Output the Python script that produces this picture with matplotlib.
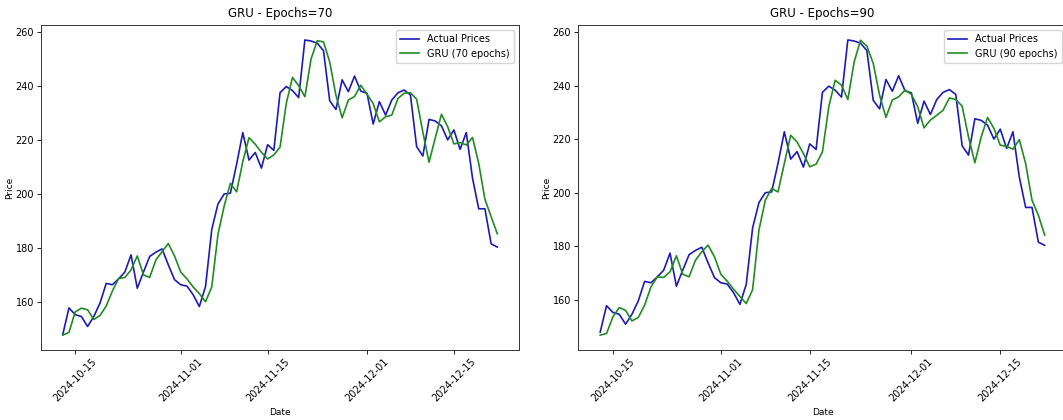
import pandas as pd
import matplotlib.pyplot as plt
import matplotlib.dates as mdates

# daily dates shown on the x axis
dates = pd.date_range('2024-10-13', '2024-12-22', freq='D')

actual_prices = [
    147.8, 157.7, 155.2, 154.5, 150.8, 154.5, 159.5, 166.8, 166.3, 168.5,
    171.0, 177.4, 165.0, 171.0, 176.8, 178.4, 179.6, 173.7, 168.2,
    166.3, 165.8, 162.6, 158.2, 165.7, 186.8, 196.3, 200.0, 200.3, 211.0,
    222.8, 212.6, 215.4, 209.6, 218.3, 216.2, 237.6, 239.9, 238.4, 235.8,
    257.2, 256.8, 256.0, 253.2, 234.6, 231.4, 242.4, 238.0, 243.8, 238.2,
    237.4, 226.0, 234.3, 229.3, 234.9, 237.6, 238.6, 236.8, 217.6, 214.1,
    227.7, 227.1, 225.3, 220.1, 223.8, 216.6, 222.8, 205.9, 194.5, 194.5,
    181.5, 180.3,
]

gru_70 = [
    147.6, 148.6, 156.2, 157.6, 157.0, 153.4, 154.9, 158.4, 164.0, 168.6,
    169.0, 171.8, 177.0, 170.0, 169.0, 175.5, 178.6, 181.6, 177.0,
    171.0, 168.5, 165.5, 163.0, 160.0, 165.5, 185.0, 195.5, 204.0, 200.8,
    212.0, 220.9, 218.5, 215.5, 213.0, 214.5, 217.4, 233.6, 243.3, 240.2,
    236.1, 250.2, 256.9, 256.5, 249.0, 236.7, 228.3, 234.9, 236.2, 240.4,
    237.1, 233.6, 226.8, 228.7, 229.3, 235.5, 237.4, 237.6, 235.2, 223.0,
    211.8, 220.8, 229.6, 225.0, 218.6, 219.1, 218.2, 221.0, 211.4, 198.0,
    191.6, 185.2,
]

gru_90 = [
    146.7, 147.3, 153.5, 157.0, 156.0, 152.0, 153.3, 157.9, 164.8, 168.5,
    168.3, 170.4, 176.4, 169.5, 168.5, 174.7, 177.9, 180.4, 176.0,
    169.5, 166.9, 163.9, 161.2, 158.5, 163.7, 186.0, 197.2, 201.6, 200.3,
    211.0, 221.5, 219.0, 214.7, 209.7, 210.7, 215.3, 232.2, 242.1, 240.3,
    234.9, 249.0, 257.1, 254.9, 248.4, 236.5, 228.2, 234.7, 235.9, 238.4,
    236.9, 232.2, 224.3, 227.2, 229.0, 230.9, 235.5, 234.9, 232.4, 220.9,
    211.2, 220.9, 228.2, 224.1, 217.8, 217.4, 216.3, 219.9, 210.9, 197.2,
    191.6, 184.1,
]

epochs = [70, 90]
predictions = [gru_70, gru_90]

fig = plt.figure(figsize=(10.63, 4.2), dpi=100)
# right panel runs a little past the image edge, like the cropped original
ax_boxes = [[0.0386, 0.167, 0.4497, 0.773], [0.5437, 0.167, 0.4600, 0.773]]

for box, ep, pred in zip(ax_boxes, epochs, predictions):
    ax = fig.add_axes(box)
    ax.plot(dates, actual_prices, color='#1c1cb4', linewidth=1.2, label='Actual Prices')
    ax.plot(dates, pred, color='#228b22', linewidth=1.2, label=f'GRU ({ep} epochs)')
    ax.set_title(f'GRU - Epochs={ep}', fontsize=8.5, pad=6)
    ax.set_xlabel('Date', fontsize=6.5, labelpad=3)
    ax.set_ylabel('Price', fontsize=6.5, labelpad=1)
    ax.set_yticks([160, 180, 200, 220, 240, 260])
    ax.xaxis.set_major_locator(mdates.DayLocator(bymonthday=[1, 15]))
    ax.xaxis.set_major_formatter(mdates.DateFormatter('%Y-%m-%d'))
    ax.tick_params(labelsize=7, length=3, width=0.6, pad=2)
    plt.setp(ax.get_xticklabels(), rotation=45)
    for s in ax.spines.values():
        s.set_linewidth(0.7)
        s.set_color('#333333')
    ax.legend(loc='upper right', fontsize=7, handlelength=2, borderpad=0.45,
              labelspacing=0.45, framealpha=0.8)

fig.savefig('out.png', dpi=100)
